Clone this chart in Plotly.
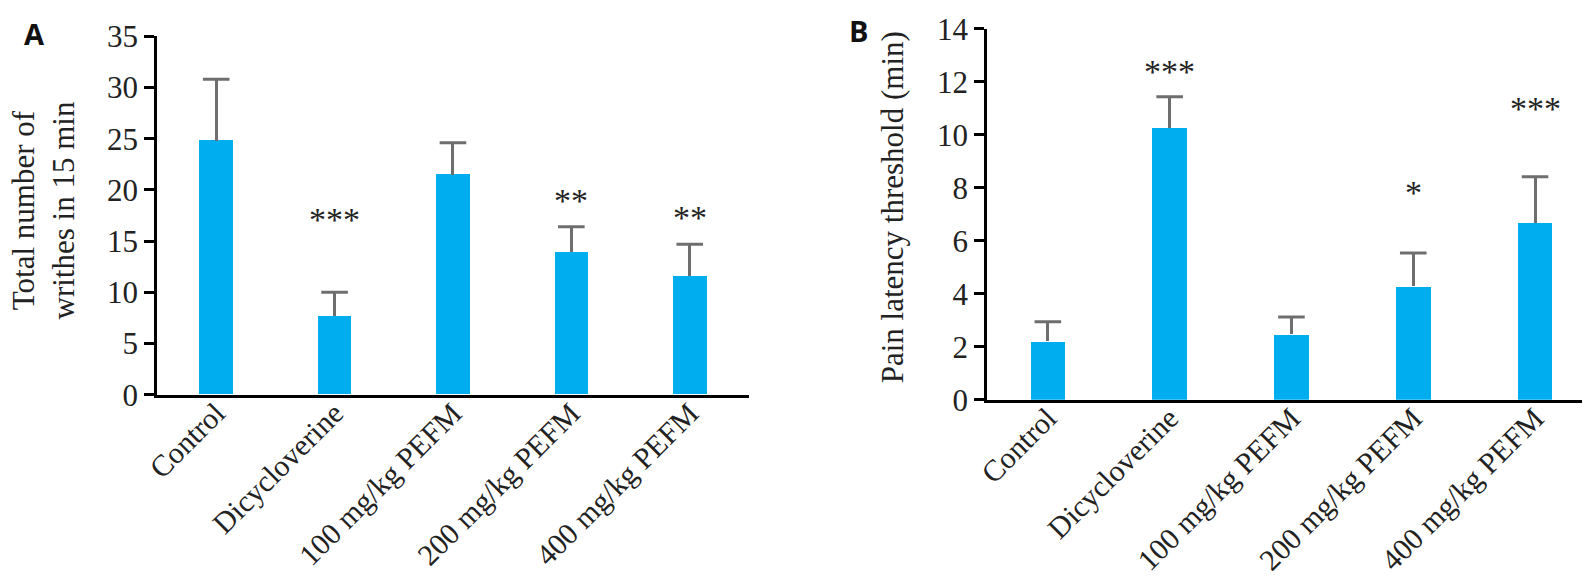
import plotly.graph_objects as go

# ------------------------------------------------------------------
# data
# ------------------------------------------------------------------
groups = ['Control', 'Dicycloverine', '100 mg/kg PEFM', '200 mg/kg PEFM', '400 mg/kg PEFM']

writhes_mean = [24.8, 7.7, 21.5, 13.9, 11.6]
writhes_err = [6.0, 2.3, 3.1, 2.5, 3.1]
writhes_stars = ['', '***', '', '**', '**']
writhes_star_y = [None, 17.1, None, 19.0, 17.3]

latency_mean = [2.2, 10.25, 2.46, 4.28, 6.67]
latency_err = [0.74, 1.18, 0.66, 1.26, 1.74]
latency_stars = ['', '***', '', '*', '***']
latency_star_y = [None, 12.4, None, 7.8, 11.0]

BAR_COLOR = '#00AEEF'
ERR_COLOR = '#6E6E6E'
SERIF = 'Liberation Serif'
TXT = '#222'


def add_panel(fig, means, errs, xa, ya):
    # bars with the upper stem only (no caps, they would show at bar top)
    fig.add_trace(go.Bar(
        x=groups, y=means,
        marker=dict(color=BAR_COLOR, line=dict(width=0)),
        width=0.285,
        error_y=dict(type='data', symmetric=False, array=errs,
                     arrayminus=[0] * len(groups),
                     color=ERR_COLOR, thickness=3, width=0),
        xaxis=xa, yaxis=ya, showlegend=False, hoverinfo='skip'
    ))
    # caps at mean + error
    tops = [m + e for m, e in zip(means, errs)]
    fig.add_trace(go.Scatter(
        x=groups, y=tops, mode='markers',
        marker=dict(symbol='line-ew', size=19,
                    line=dict(color=ERR_COLOR, width=3)),
        xaxis=xa, yaxis=ya, showlegend=False, hoverinfo='skip'
    ))


fig = go.Figure()
add_panel(fig, writhes_mean, writhes_err, 'x', 'y')
add_panel(fig, latency_mean, latency_err, 'x2', 'y2')

annotations = []
for g, s, y in zip(groups, writhes_stars, writhes_star_y):
    if s:
        annotations.append(dict(x=g, y=y, xref='x', yref='y', text=s,
                                showarrow=False, yanchor='middle',
                                font=dict(family=SERIF, size=34, color=TXT)))
for g, s, y in zip(groups, latency_stars, latency_star_y):
    if s:
        annotations.append(dict(x=g, y=y, xref='x2', yref='y2', text=s,
                                showarrow=False, yanchor='middle',
                                font=dict(family=SERIF, size=34, color=TXT)))

# axis titles and panel letters
annotations += [
    dict(x=0.0222, y=0.655, xref='paper', yref='paper', textangle=-90,
         xanchor='center', yanchor='middle',
         text='Total number of<br>writhes in 15 min', showarrow=False,
         font=dict(family=SERIF, size=31, color=TXT)),
    dict(x=0.556, y=0.66, xref='paper', yref='paper', textangle=-90,
         xanchor='center', yanchor='middle',
         text='Pain latency threshold (min)', showarrow=False,
         font=dict(family=SERIF, size=31, color=TXT)),
    dict(x=0.0165, y=0.9565, xref='paper', yref='paper', text='<b>A</b>',
         xanchor='center', yanchor='middle',
         showarrow=False, font=dict(family='Open Sans', size=29, color='#111')),
    dict(x=0.535, y=0.9616, xref='paper', yref='paper', text='<b>B</b>',
         xanchor='center', yanchor='middle',
         showarrow=False, font=dict(family='Open Sans', size=29, color='#111')),
]

xaxis_style = dict(
    type='category', range=[-0.5, 4.5], showline=True, linecolor='black',
    linewidth=3, ticks='', tickangle=-45, showgrid=False, zeroline=False,
    automargin=False, ticklabelstandoff=-14,
    tickfont=dict(family=SERIF, size=30, color=TXT),
)
yaxis_style = dict(
    showline=True, linecolor='black', linewidth=2.5, ticks='outside',
    ticklen=10, tickwidth=2.5, tickcolor='black', showgrid=False,
    zeroline=False, automargin=False,
    tickfont=dict(family=SERIF, size=31, color=TXT),
)

fig.update_layout(
    width=1590, height=586,
    margin=dict(l=0, r=0, t=0, b=0),
    paper_bgcolor='white', plot_bgcolor='white',
    bargap=0,
    xaxis=dict(xaxis_style, domain=[0.0937, 0.466], anchor='y'),
    yaxis=dict(yaxis_style, domain=[0.3401, 0.9517], range=[0, 35],
               dtick=5, anchor='x'),
    xaxis2=dict(xaxis_style, domain=[0.6157, 0.9987], anchor='y2'),
    yaxis2=dict(yaxis_style, domain=[0.3316, 0.9647], range=[0, 14],
                dtick=2, anchor='x2'),
    annotations=annotations,
)

fig.write_html('out.html')
